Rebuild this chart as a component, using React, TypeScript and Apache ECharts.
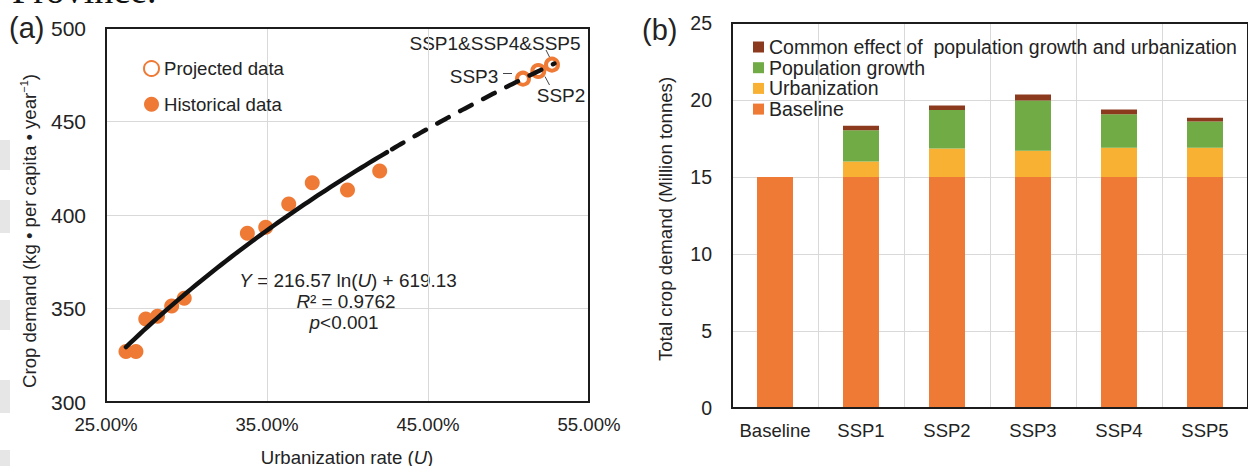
import React, { useEffect, useRef } from 'react';
import * as echarts from 'echarts';

// ---------- Panel (a) data ----------
const histUrbanization = [26.24, 26.86, 27.47, 28.2, 29.08, 29.86, 33.78, 34.92, 36.35, 37.81, 40.0, 42.0];
const histDemand = [327, 327, 344.4, 345.8, 351.3, 355.5, 390.2, 393.4, 405.9, 417.3, 413.4, 423.5];
const projUrbanization = [50.9, 51.85, 52.7];
const projDemand = [472.9, 477.0, 480.4];
const FIT_A = 216.57;
const FIT_B = 619.13;
const fitSolidRange = [26.24, 42.45];
const fitDashedRange = [42.45, 52.85];
const xTicksA = [25, 55, 10];
const yTicksA = [300, 500, 50];

// ---------- Panel (b) data ----------
const scenarios = ['Baseline', 'SSP1', 'SSP2', 'SSP3', 'SSP4', 'SSP5'];
const baselineVals = [15, 15, 15, 15, 15, 15];
const urbanizationVals = [0, 1.0, 1.85, 1.7, 1.9, 1.9];
const popGrowthVals = [0, 2.03, 2.5, 3.27, 2.18, 1.7];
const commonVals = [0, 0.3, 0.3, 0.38, 0.3, 0.24];
const seriesNamesB = [
  'Baseline',
  'Urbanization',
  'Population growth',
  'Common effect of  population growth and urbanization',
];

const FONT = '"Liberation Sans", Arial, sans-serif';
const TXT = '#232323';
const ORANGE = '#EE7A35';
const GOLD = '#F8B133';
const GREEN = '#70AB45';
const BROWN = '#8C3A1D';
const GRID = '#d9d9d9';

function fitCurve(range: number[]) {
  const pts: number[][] = [];
  const steps = 60;
  for (let i = 0; i <= steps; i++) {
    const u = range[0] + ((range[1] - range[0]) * i) / steps;
    pts.push([u, FIT_A * Math.log(u / 100) + FIT_B]);
  }
  return pts;
}

export default function App() {
  const ref = useRef<HTMLDivElement>(null);
  useEffect(() => {
    if (!ref.current) return;
    const chart = echarts.init(ref.current, undefined, { renderer: 'svg' });
    const baseText = { fontFamily: FONT, fill: TXT };
    const option: any = {
      animation: false,
      textStyle: { fontFamily: FONT, color: TXT },
      grid: [
        { left: 106, top: 28, width: 483, height: 374, show: true, borderColor: '#1c1c1c', borderWidth: 2, backgroundColor: 'transparent', z: 10 },
        { left: 732, top: 23, width: 524, height: 385, show: true, borderColor: '#1c1c1c', borderWidth: 2, backgroundColor: 'transparent', z: 10 },
      ],
      xAxis: [
        {
          type: 'value', gridIndex: 0, min: xTicksA[0], max: xTicksA[1], interval: xTicksA[2],
          axisLine: { show: false }, axisTick: { show: false },
          splitLine: { show: true, showMinLine: false, showMaxLine: false, lineStyle: { color: GRID, width: 1 } },
          axisLabel: { fontSize: 18.6, color: TXT, margin: 13, formatter: (v: number) => v.toFixed(2) + '%' },
        },
        {
          type: 'category', gridIndex: 1, data: scenarios,
          axisLine: { show: false }, axisTick: { show: false },
          splitLine: { show: true, interval: 0, lineStyle: { color: GRID, width: 1 } },
          axisLabel: { fontSize: 18.5, color: TXT, margin: 13, interval: 0 },
        },
      ],
      yAxis: [
        {
          type: 'value', gridIndex: 0, min: yTicksA[0], max: yTicksA[1], interval: yTicksA[2],
          axisLine: { show: false }, axisTick: { show: false },
          splitLine: { show: true, showMinLine: false, showMaxLine: false, lineStyle: { color: GRID, width: 1 } },
          axisLabel: { fontSize: 21, color: TXT, margin: 20 },
        },
        {
          type: 'value', gridIndex: 1, min: 0, max: 25, interval: 5,
          axisLine: { show: false }, axisTick: { show: false },
          splitLine: { show: true, showMinLine: false, showMaxLine: false, lineStyle: { color: GRID, width: 1 } },
          axisLabel: { fontSize: 19.5, color: TXT, margin: 20 },
        },
      ],
      legend: [
        {
          data: ['Projected data', 'Historical data'],
          orient: 'vertical', left: 138, top: 54, itemWidth: 15, itemHeight: 15, itemGap: 16.7,
          selectedMode: false,
          textStyle: { fontSize: 18.6, color: TXT, fontFamily: FONT, lineHeight: 19 },
        },
        {
          data: [seriesNamesB[3], seriesNamesB[2], seriesNamesB[1], seriesNamesB[0]],
          orient: 'vertical', left: 748, top: 32, itemWidth: 11, itemHeight: 11, itemGap: 0.7,
          icon: 'rect', selectedMode: false,
          textStyle: { fontSize: 19.5, color: TXT, fontFamily: FONT, lineHeight: 19 },
        },
      ],
      series: [
        {
          name: 'Historical data', type: 'scatter', xAxisIndex: 0, yAxisIndex: 0,
          symbol: 'circle', symbolSize: 15, z: 2,
          itemStyle: { color: ORANGE, opacity: 1 },
          data: histUrbanization.map((u, i) => [u, histDemand[i]]),
        },
        {
          name: 'Projected data', type: 'scatter', xAxisIndex: 0, yAxisIndex: 0,
          symbol: 'circle', symbolSize: 12, z: 2,
          itemStyle: { color: '#ffffff', borderColor: ORANGE, borderWidth: 4, opacity: 1 },
          data: projUrbanization.map((u, i) => [u, projDemand[i]]),
        },
        {
          name: 'fit', type: 'line', xAxisIndex: 0, yAxisIndex: 0, showSymbol: false, symbol: 'none', z: 4,
          lineStyle: { color: '#111', width: 4.5, cap: 'round' },
          data: fitCurve(fitSolidRange),
        },
        {
          name: 'fit projected', type: 'line', xAxisIndex: 0, yAxisIndex: 0, showSymbol: false, symbol: 'none', z: 4,
          lineStyle: { color: '#111', width: 4.5, type: [13, 13], cap: 'round', dashOffset: -6 },
          data: fitCurve(fitDashedRange),
        },
        {
          name: seriesNamesB[0], type: 'bar', stack: 'total', xAxisIndex: 1, yAxisIndex: 1, barWidth: 36,
          itemStyle: { color: ORANGE }, data: baselineVals,
        },
        {
          name: seriesNamesB[1], type: 'bar', stack: 'total', xAxisIndex: 1, yAxisIndex: 1, barWidth: 36,
          itemStyle: { color: GOLD }, data: urbanizationVals,
        },
        {
          name: seriesNamesB[2], type: 'bar', stack: 'total', xAxisIndex: 1, yAxisIndex: 1, barWidth: 36,
          itemStyle: { color: GREEN }, data: popGrowthVals,
        },
        {
          name: seriesNamesB[3], type: 'bar', stack: 'total', xAxisIndex: 1, yAxisIndex: 1, barWidth: 36,
          itemStyle: { color: BROWN }, data: commonVals,
        },
      ],
      graphic: [
        // page artifacts
        { type: 'rect', shape: { x: 0, y: 140, width: 10, height: 30 }, style: { fill: '#e6e6e6' } },
        { type: 'rect', shape: { x: 0, y: 200, width: 10, height: 33 }, style: { fill: '#e6e6e6' } },
        { type: 'rect', shape: { x: 0, y: 300, width: 10, height: 30 }, style: { fill: '#e6e6e6' } },
        { type: 'rect', shape: { x: 0, y: 380, width: 10, height: 33 }, style: { fill: '#e6e6e6' } },
        { type: 'rect', shape: { x: 0, y: 450, width: 10, height: 16 }, style: { fill: '#e6e6e6' } },
        { type: 'text', x: 12, y: -29, style: { text: 'Province.', fontFamily: '"Liberation Serif", "Times New Roman", serif', fontSize: 38, fill: '#111', verticalAlign: 'top' } },
        // panel labels
        { type: 'text', x: 9, y: 28, style: { ...baseText, text: '(a)', fontSize: 29, verticalAlign: 'middle', align: 'left' } },
        { type: 'text', x: 642, y: 30, style: { ...baseText, text: '(b)', fontSize: 29, verticalAlign: 'middle', align: 'left' } },
        // axis titles
        {
          type: 'text', x: 29, y: 231, rotation: Math.PI / 2,
          style: {
            ...baseText, text: 'Crop demand (kg • per capita • year{sup|−1})', fontSize: 18.6,
            align: 'center', verticalAlign: 'middle',
            rich: { sup: { fontSize: 11, fontFamily: FONT, fill: TXT, verticalAlign: 'top', lineHeight: 22 } },
          },
        },
        {
          type: 'text', x: 665, y: 219, rotation: Math.PI / 2,
          style: { ...baseText, text: 'Total crop demand (Million tonnes)', fontSize: 18.6, align: 'center', verticalAlign: 'middle' },
        },
        {
          type: 'text', x: 347, y: 457,
          style: {
            ...baseText, text: 'Urbanization rate ({i|U})', fontSize: 18.6, align: 'center', verticalAlign: 'middle',
            rich: { i: { fontStyle: 'italic', fontSize: 18.6, fontFamily: FONT, fill: TXT } },
          },
        },
        // equation
        {
          type: 'text', x: 348, y: 280,
          style: {
            ...baseText, text: '{i|Y} = 216.57 ln({i|U}) + 619.13', fontSize: 18.9, align: 'center', verticalAlign: 'middle',
            rich: { i: { fontStyle: 'italic', fontSize: 18.9, fontFamily: FONT, fill: TXT } },
          },
        },
        {
          type: 'text', x: 346, y: 301,
          style: {
            ...baseText, text: '{i|R}² = 0.9762', fontSize: 18.9, align: 'center', verticalAlign: 'middle',
            rich: { i: { fontStyle: 'italic', fontSize: 18.9, fontFamily: FONT, fill: TXT } },
          },
        },
        {
          type: 'text', x: 344, y: 322.5,
          style: {
            ...baseText, text: '{i|p}<0.001', fontSize: 18.9, align: 'center', verticalAlign: 'middle',
            rich: { i: { fontStyle: 'italic', fontSize: 18.9, fontFamily: FONT, fill: TXT } },
          },
        },
        // scenario annotations
        { type: 'text', x: 495, y: 43, style: { ...baseText, text: 'SSP1&SSP4&SSP5', fontSize: 19, align: 'center', verticalAlign: 'middle' } },
        { type: 'text', x: 474, y: 76, style: { ...baseText, text: 'SSP3', fontSize: 19, align: 'center', verticalAlign: 'middle' } },
        { type: 'text', x: 561, y: 95, style: { ...baseText, text: 'SSP2', fontSize: 19, align: 'center', verticalAlign: 'middle' } },
        { type: 'line', shape: { x1: 546, y1: 50, x2: 549.5, y2: 57 }, style: { stroke: '#444', lineWidth: 1 } },
        { type: 'line', shape: { x1: 503, y1: 73.5, x2: 512, y2: 73.5 }, style: { stroke: '#444', lineWidth: 1 } },
        { type: 'line', shape: { x1: 545, y1: 76.5, x2: 549.5, y2: 85 }, style: { stroke: '#444', lineWidth: 1 } },
      ],
    };
    chart.setOption(option);
    return () => chart.dispose();
  }, []);
  return (
    <div
      ref={ref}
      style={{ position: 'absolute', left: 0, top: 0, width: 1248, height: 466, background: '#fff' }}
    />
  );
}
